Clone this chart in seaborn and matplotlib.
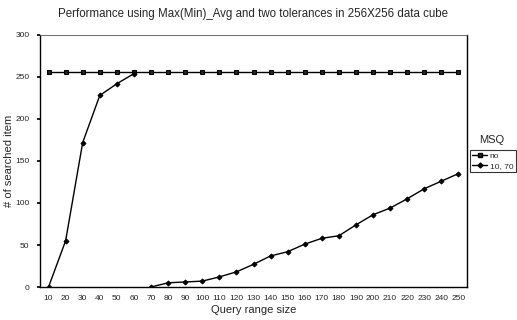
import numpy as np
import pandas as pd
import matplotlib
matplotlib.use("Agg")
import matplotlib.pyplot as plt
import seaborn as sns
from matplotlib.lines import Line2D

sizes = [10, 20, 30, 40, 50, 60, 70, 80, 90, 100, 110, 120, 130, 140, 150,
         160, 170, 180, 190, 200, 210, 220, 230, 240, 250]
no_tol = [256] * 25
tol_first = [0, 55, 172, 228, 242, 254]            # sizes 10..60
tol_second = [0, 5, 6, 7, 12, 18, 27, 37, 42, 51, 58, 61, 74, 86, 94,
              105, 117, 126, 135]                   # sizes 70..250

rows = []
for i, v in enumerate(no_tol):
    rows.append(dict(pos=i, val=v, series="no", seg="no"))
for i, v in enumerate(tol_first):
    rows.append(dict(pos=i, val=v, series="10, 70", seg="a"))
for i, v in enumerate(tol_second):
    rows.append(dict(pos=i + 6, val=v, series="10, 70", seg="b"))
df = pd.DataFrame(rows)

sns.set_theme(style="white")
plt.rcParams['font.family'] = ['Liberation Sans', 'DejaVu Sans']

fig = plt.figure(figsize=(5.17, 3.2), dpi=100)
ax = fig.add_axes([40/517, 1 - 287/320, 427/517, 252/320])

sns.lineplot(data=df[df.series == "no"], x="pos", y="val", ax=ax,
             color="black", lw=1.0, marker="s", markersize=3.5,
             markerfacecolor="#222222", markeredgecolor="black",
             estimator=None, legend=False)
for seg in ["a", "b"]:
    sns.lineplot(data=df[df.seg == seg], x="pos", y="val", ax=ax,
                 color="black", lw=1.0, marker="D", markersize=2.5,
                 markerfacecolor="black", markeredgecolor="black",
                 estimator=None, legend=False)

ax.set_xlim(-0.5, len(sizes) - 0.5)
ax.set_ylim(0, 300)
ax.set_xticks(range(len(sizes)))
ax.set_xticklabels([str(s) for s in sizes], fontsize=6)
ax.set_xticks(np.arange(-0.5, len(sizes), 1), minor=True)
ax.set_yticks(range(0, 301, 50))
ax.set_yticklabels([str(v) for v in range(0, 301, 50)], fontsize=6)
ax.tick_params(axis="x", which="major", length=0, pad=6)
ax.tick_params(axis="x", which="minor", length=2.5, direction="in", color="black")
ax.tick_params(axis="y", length=2.5, direction="out", color="black", pad=5, left=True)
for name, sp in ax.spines.items():
    sp.set_color("black")
    sp.set_linewidth(1.0)
ax.spines["top"].set_linewidth(0.6)
ax.spines["top"].set_color("#555555")

ax.set_xlabel("Query range size", fontsize=8, labelpad=2)
ax.set_ylabel("# of searched item", fontsize=8)
ax.yaxis.set_label_coords(-26/427, 0.5)
fig.text(0.5 * (40 + 467) / 517, 1 - 14/320,
         "Performance using Max(Min)_Avg and two tolerances in 256X256 data cube",
         ha="center", va="center", fontsize=8.3)

handles = [
    Line2D([], [], color="black", lw=1.0, marker="s", markersize=3.5,
           markerfacecolor="#222222"),
    Line2D([], [], color="black", lw=1.0, marker="D", markersize=2.5),
]
leg = ax.legend(handles, ["no", "10, 70"],
                loc="upper left", bbox_to_anchor=(1.006, 137/252),
                fontsize=6, frameon=True,
                handlelength=1.8, handletextpad=0.3, borderpad=0.3,
                labelspacing=0.2, fancybox=False, borderaxespad=0.0)
leg.get_frame().set_edgecolor("black")
leg.get_frame().set_linewidth(0.8)
fig.text(492/517, 1 - 140/320, "MSQ", ha="center", va="center", fontsize=8)

fig.savefig("out.png", dpi=100, facecolor="white")
